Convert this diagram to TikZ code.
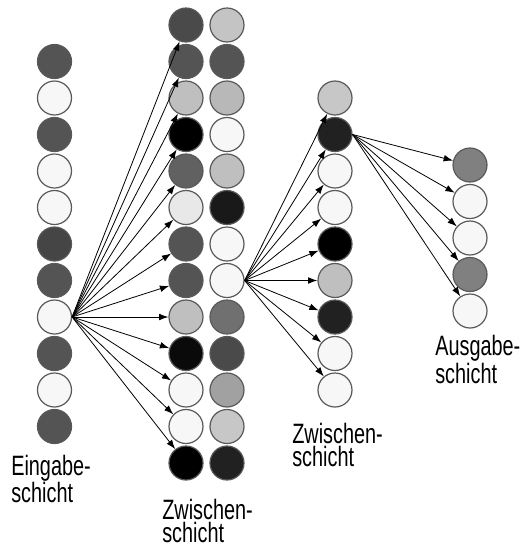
\documentclass[tikz,border=0pt]{standalone}
\usepackage{fontspec}
\setmainfont{Liberation Sans}[FakeStretch=0.71]
\usetikzlibrary{arrows.meta}

\tikzset{
	neuron/.style={circle,draw=black!65,line width=0.9pt,minimum size=25.5pt,inner sep=0pt},
	link/.style={-{Latex[length=7pt,width=5pt]},line width=0.6pt},
	layername/.style={align=left,inner sep=0pt,font=\fontsize{21pt}{17pt}\selectfont}
}

\begin{document}
\begin{tikzpicture}[x=0.75pt,y=-0.75pt]
		\useasboundingbox (0,0) rectangle (519,547);
		
		% Eingabeschicht
		\node[neuron,fill=black!67] (e1) at (54.5,61.5) {};
		\node[neuron,fill=black!3] (e2) at (54.5,98) {};
		\node[neuron,fill=black!67] (e3) at (54.5,134.5) {};
		\node[neuron,fill=black!3] (e4) at (54.5,171) {};
		\node[neuron,fill=black!3] (e5) at (54.5,207.5) {};
		\node[neuron,fill=black!73] (e6) at (54.5,244) {};
		\node[neuron,fill=black!67] (e7) at (54.5,280.5) {};
		\node[neuron,fill=black!3] (e8) at (54.5,317) {};
		\node[neuron,fill=black!67] (e9) at (54.5,353.5) {};
		\node[neuron,fill=black!3] (e10) at (54.5,390) {};
		\node[neuron,fill=black!67] (e11) at (54.5,426.5) {};
		
		% erste Zwischenschicht, linke Spalte
		\node[neuron,fill=black!71] (za1) at (186,25) {};
		\node[neuron,fill=black!67] (za2) at (186,61.5) {};
		\node[neuron,fill=black!25] (za3) at (186,98) {};
		\node[neuron,fill=black] (za4) at (186,134.5) {};
		\node[neuron,fill=black!62] (za5) at (186,171) {};
		\node[neuron,fill=black!9] (za6) at (186,207.5) {};
		\node[neuron,fill=black!67] (za7) at (186,244) {};
		\node[neuron,fill=black!67] (za8) at (186,280.5) {};
		\node[neuron,fill=black!25] (za9) at (186,317) {};
		\node[neuron,fill=black!96] (za10) at (186,353.5) {};
		\node[neuron,fill=black!3] (za11) at (186,390) {};
		\node[neuron,fill=black!3] (za12) at (186,426.5) {};
		\node[neuron,fill=black] (za13) at (186,463) {};
		
		% erste Zwischenschicht, rechte Spalte
		\node[neuron,fill=black!23] (zb1) at (227,25) {};
		\node[neuron,fill=black!67] (zb2) at (227,61.5) {};
		\node[neuron,fill=black!28] (zb3) at (227,98) {};
		\node[neuron,fill=black!3] (zb4) at (227,134.5) {};
		\node[neuron,fill=black!25] (zb5) at (227,171) {};
		\node[neuron,fill=black!90] (zb6) at (227,207.5) {};
		\node[neuron,fill=black!3] (zb7) at (227,244) {};
		\node[neuron,fill=black!3] (zb8) at (227,280.5) {};
		\node[neuron,fill=black!56] (zb9) at (227,317) {};
		\node[neuron,fill=black!71] (zb10) at (227,353.5) {};
		\node[neuron,fill=black!37] (zb11) at (227,390) {};
		\node[neuron,fill=black!22] (zb12) at (227,426.5) {};
		\node[neuron,fill=black!87] (zb13) at (227,463) {};
		
		% zweite Zwischenschicht
		\node[neuron,fill=black!22] (zc1) at (335,98) {};
		\node[neuron,fill=black!87] (zc2) at (335,134.5) {};
		\node[neuron,fill=black!3] (zc3) at (335,171) {};
		\node[neuron,fill=black!3] (zc4) at (335,207.5) {};
		\node[neuron,fill=black] (zc5) at (335,244) {};
		\node[neuron,fill=black!25] (zc6) at (335,280.5) {};
		\node[neuron,fill=black!87] (zc7) at (335,317) {};
		\node[neuron,fill=black!3] (zc8) at (335,353.5) {};
		\node[neuron,fill=black!3] (zc9) at (335,390) {};
		
		% Ausgabeschicht
		\node[neuron,fill=black!50] (a1) at (470,165) {};
		\node[neuron,fill=black!3] (a2) at (470,201.5) {};
		\node[neuron,fill=black!3] (a3) at (470,238) {};
		\node[neuron,fill=black!50] (a4) at (470,274.5) {};
		\node[neuron,fill=black!3] (a5) at (470,311) {};
		
		% Verbindungen
		\draw[link] (e8.east) -- (za1);
		\draw[link] (e8.east) -- (za2);
		\draw[link] (e8.east) -- (za3);
		\draw[link] (e8.east) -- (za4);
		\draw[link] (e8.east) -- (za5);
		\draw[link] (e8.east) -- (za6);
		\draw[link] (e8.east) -- (za7);
		\draw[link] (e8.east) -- (za8);
		\draw[link] (e8.east) -- (za9);
		\draw[link] (e8.east) -- (za10);
		\draw[link] (e8.east) -- (za11);
		\draw[link] (e8.east) -- (za12);
		\draw[link] (e8.east) -- (za13);
		
		\draw[link] (zb8.east) -- (zc1);
		\draw[link] (zb8.east) -- (zc2);
		\draw[link] (zb8.east) -- (zc3);
		\draw[link] (zb8.east) -- (zc4);
		\draw[link] (zb8.east) -- (zc5);
		\draw[link] (zb8.east) -- (zc6);
		\draw[link] (zb8.east) -- (zc7);
		\draw[link] (zb8.east) -- (zc8);
		\draw[link] (zb8.east) -- (zc9);
		
		\draw[link] (zc2.east) -- (a1);
		\draw[link] (zc2.east) -- (a2);
		\draw[link] (zc2.east) -- (a3);
		\draw[link] (zc2.east) -- (a4);
		\draw[link] (zc2.east) -- (a5);
		
		% Beschriftung (Grundlinie der zweiten Zeile)
		\node[layername,anchor=base west] (leingabe) at (11,502.5) {Eingabe-\\schicht};
		\node[layername,anchor=base west] (lzwa) at (162,542) {Zwischen-\\schicht};
		\node[layername,anchor=base west] (lzwb) at (292,466.5) {Zwischen-\\schicht};
		\node[layername,anchor=base west] (lausgabe) at (435,383) {Ausgabe-\\schicht};
	\end{tikzpicture}
\end{document}
